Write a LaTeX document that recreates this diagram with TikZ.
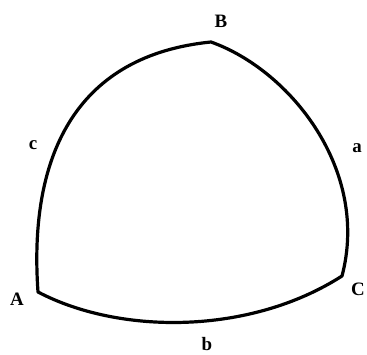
\documentclass[tikz,border=0pt]{standalone}
\usepackage{fontspec}
\setmainfont{Liberation Serif}
\begin{document}
\begin{tikzpicture}[x=1bp,y=-1bp,
  lbl/.style={font=\bfseries\fontsize{19}{19}\selectfont, inner sep=0pt},
  edge/.style={line width=3.2bp, line join=round, line cap=round}]
\useasboundingbox (0,0) rectangle (367,355);
\coordinate (A) at (38,292);
\coordinate (B) at (211,42);
\coordinate (C) at (342,276);
\draw[edge] (A) .. controls (28,150) and (80,55) .. (B)
  .. controls (290,70) and (370,170) .. (C)
  .. controls (250,335) and (120,335) .. (A) -- cycle;
\node[lbl] (lB) at (221,21) {B};
\node[lbl] (lA) at (17,299) {A};
\node[lbl] (lC) at (358,289) {C};
\node[lbl] (la) at (357,148) {a};
\node[lbl] (lb) at (207,344) {b};
\node[lbl] (lc) at (33,145) {c};
\end{tikzpicture}
\end{document}
